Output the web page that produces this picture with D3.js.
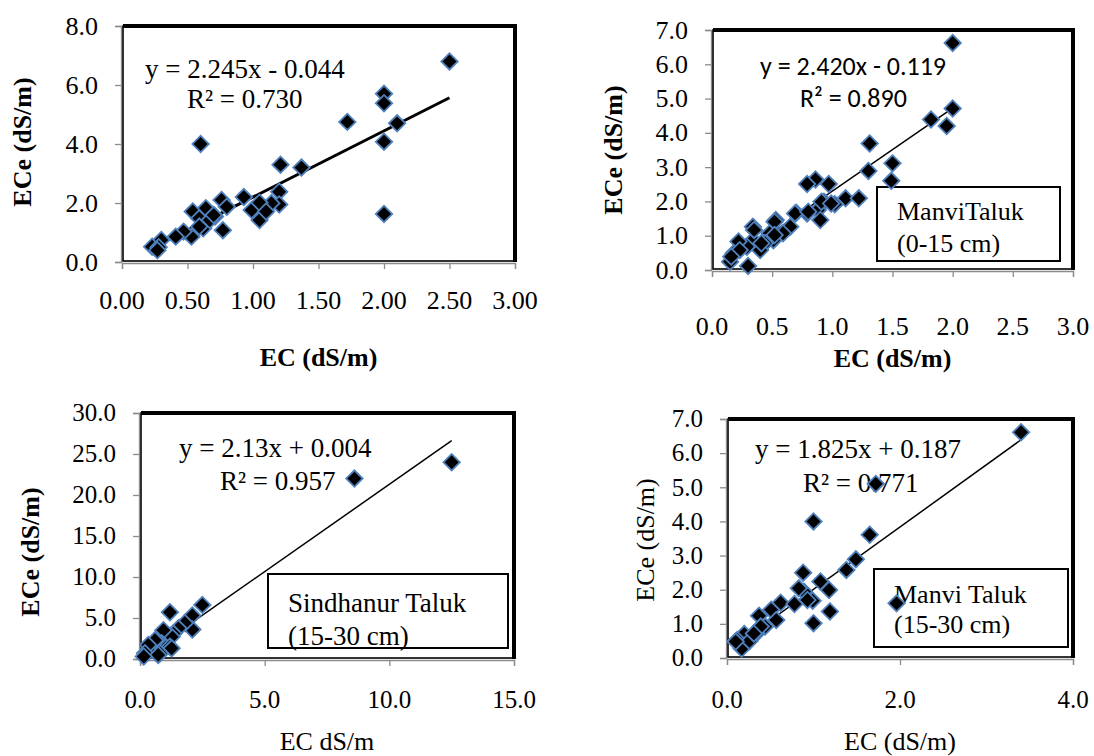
<!DOCTYPE html>
<html>
<head>
<meta charset="utf-8">
<script src="https://cdn.jsdelivr.net/npm/d3@7/dist/d3.min.js"></script>
<style>
  body { margin: 0; background: #fff; }
  svg { display: block; }
</style>
</head>
<body>
<svg id="chart" width="1094" height="756"></svg>
<script>
// ---- Saturation-paste EC (ECe) against 1:2 extract EC, four soil sets ----

// Set 1 (top left)
const ecSet1  = [2.50, 2.00, 2.00, 1.72, 2.10, 2.00, 2.00, 0.60, 1.21, 1.37, 1.20, 1.20, 1.14, 0.93, 0.99, 1.05, 1.05, 1.10, 0.76, 0.80, 0.77, 0.71, 0.64, 0.54, 0.59, 0.62, 0.67, 0.53, 0.47, 0.41, 0.30, 0.23, 0.28, 0.59, 0.70, 0.27];
const eceSet1 = [6.80, 5.70, 5.38, 4.75, 4.70, 4.08, 1.63, 4.00, 3.30, 3.20, 2.38, 1.95, 1.99, 2.20, 1.76, 1.42, 2.01, 1.71, 2.10, 1.87, 1.08, 1.54, 1.82, 1.71, 1.48, 1.14, 1.42, 0.86, 1.03, 0.86, 0.75, 0.52, 0.50, 1.20, 1.59, 0.40];

// Set 2 (top right) – Manvi Taluk, 0-15 cm
const ecSet2  = [2.00, 2.00, 1.82, 1.95, 1.31, 1.50, 1.30, 1.49, 0.86, 0.79, 0.97, 1.11, 1.22, 0.93, 1.02, 0.88, 0.90, 0.79, 0.70, 0.65, 0.59, 0.53, 0.48, 0.51, 0.44, 0.34, 0.34, 0.29, 0.22, 0.18, 0.15, 0.30, 0.40, 0.23, 0.91, 0.69, 0.52, 0.52, 0.35, 0.41, 0.16, 0.80, 0.99];
const eceSet2 = [6.62, 4.71, 4.39, 4.20, 3.69, 3.11, 2.89, 2.60, 2.64, 2.51, 2.51, 2.09, 2.09, 1.99, 1.92, 1.75, 1.46, 1.65, 1.67, 1.26, 1.07, 1.46, 1.07, 0.87, 0.78, 1.26, 0.87, 0.68, 0.83, 0.49, 0.24, 0.12, 0.58, 0.58, 1.99, 1.65, 1.41, 1.02, 1.17, 0.78, 0.39, 1.70, 1.94];

// Set 3 (bottom left) – Sindhanur Taluk, 15-30 cm
const ecSet3  = [12.5, 8.6, 2.5, 1.2, 2.1, 2.1, 1.8, 1.54, 1.34, 1.27, 0.94, 0.87, 0.67, 1.2, 1.27, 0.47, 0.6, 0.33, 0.2, 0.8, 0.73, 0.15];
const eceSet3 = [24.0, 22.0, 6.6, 5.7, 5.3, 3.6, 4.4, 3.74, 3.1, 2.72, 3.5, 1.91, 2.3, 1.5, 1.3, 1.4, 2.3, 1.7, 0.7, 0.7, 0.5, 0.3];

// Set 4 (bottom right) – Manvi Taluk, 15-30 cm
const ecSet4  = [3.40, 1.72, 1.00, 1.65, 1.49, 1.38, 1.96, 0.88, 1.08, 1.18, 1.19, 1.00, 0.99, 0.89, 0.83, 0.62, 0.51, 0.57, 0.37, 0.44, 0.34, 0.78, 0.20, 0.12, 0.17, 0.26, 0.93, 0.39, 0.31, 0.10];
const eceSet4 = [6.61, 5.10, 4.00, 3.61, 2.89, 2.58, 1.60, 2.50, 2.24, 1.99, 1.36, 1.02, 1.68, 1.94, 2.04, 1.62, 1.41, 1.11, 1.24, 0.92, 0.72, 1.58, 0.70, 0.53, 0.28, 0.50, 1.70, 0.92, 0.72, 0.48];

// Linear fits (slope, intercept, R²)
const fitSlopes     = [2.245, 2.420, 2.13, 1.825];
const fitIntercepts = [-0.044, -0.119, 0.004, 0.187];
const fitR2         = ["0.730", "0.890", "0.957", "0.771"];
const fitEquations  = ["y = 2.245x - 0.044", "y = 2.420x - 0.119", "y = 2.13x + 0.004", "y = 1.825x + 0.187"];

// Axis ticks
const xTicksSet1 = [0, 0.5, 1.0, 1.5, 2.0, 2.5, 3.0];
const yTicksSet1 = [0, 2, 4, 6, 8];
const xTicksSet2 = [0, 0.5, 1.0, 1.5, 2.0, 2.5, 3.0];
const yTicksSet2 = [0, 1, 2, 3, 4, 5, 6, 7];
const xTicksSet3 = [0, 5, 10, 15];
const yTicksSet3 = [0, 5, 10, 15, 20, 25, 30];
const xTicksSet4 = [0, 2, 4];
const yTicksSet4 = [0, 1, 2, 3, 4, 5, 6, 7];

// Legend-box captions
const boxLabels = [null, ["ManviTaluk", "(0-15 cm)"], ["Sindhanur Taluk", "(15-30 cm)"], ["Manvi Taluk", "(15-30 cm)"]];

// Axis titles
const xTitles = ["EC (dS/m)", "EC (dS/m)", "EC dS/m", "EC (dS/m)"];
const yTitles = ["ECe (dS/m)", "ECe (dS/m)", "ECe (dS/m)", "ECe (dS/m)"];

const SERIF = "'Liberation Serif', 'Times New Roman', serif";
const SANS = "Carlito, Calibri, Lato, 'Liberation Sans', sans-serif";

const panels = [
  {
    ec: ecSet1, ece: eceSet1, xDom: [0, 3], yDom: [0, 8], xTicks: xTicksSet1, yTicks: yTicksSet1,
    xFmt: d3.format(".2f"), yFmt: d3.format(".1f"),
    px: [122, 515], py: [262, 26],
    fitWidth: 3, eqFont: SERIF, eqSize: 27, eqPos: [23, 52], r2Pos: [65, 82],
    xTickBase: 309, xTitleBase: 366, xTitleBold: true,
    yTitleX: 31, yTitleY: 142, yTitleBold: true, tickSize: 26
  },
  {
    ec: ecSet2, ece: eceSet2, xDom: [0, 3], yDom: [0, 7], xTicks: xTicksSet2, yTicks: yTicksSet2,
    xFmt: d3.format(".1f"), yFmt: d3.format(".1f"),
    px: [712, 1073], py: [270, 30],
    fitWidth: 1.5, eqFont: SANS, eqSize: 26, eqPos: [48, 45], r2Pos: [88, 77],
    box: [877, 187, 1060, 261], boxText: [897, 220, 252], boxSize: 26,
    xTickBase: 335, xTitleBase: 367, xTitleBold: true,
    yTitleX: 622, yTitleY: 150, yTitleBold: true, tickSize: 26
  },
  {
    ec: ecSet3, ece: eceSet3, xDom: [0, 15], yDom: [0, 30], xTicks: xTicksSet3, yTicks: yTicksSet3,
    xFmt: d3.format(".1f"), yFmt: d3.format(".1f"),
    px: [140, 514], py: [659, 413],
    fitWidth: 1.5, eqFont: SERIF, eqSize: 27, eqPos: [39, 44], r2Pos: [80, 77],
    box: [268, 574, 508, 648], boxText: [288, 612, 645], boxSize: 27,
    xTickBase: 708, xTitleBase: 750, xTitleBold: false,
    yTitleX: 39, yTitleY: 552, yTitleBold: true, tickSize: 25
  },
  {
    ec: ecSet4, ece: eceSet4, xDom: [0, 4], yDom: [0, 7], xTicks: xTicksSet4, yTicks: yTicksSet4,
    xFmt: d3.format(".1f"), yFmt: d3.format(".1f"),
    px: [727, 1073], py: [658, 419],
    fitWidth: 1.5, eqFont: SERIF, eqSize: 27, eqPos: [28, 39], r2Pos: [76, 73],
    box: [874, 569, 1068, 647], boxText: [894, 603, 633], boxSize: 26,
    xTickBase: 708, xTitleBase: 750, xTitleBold: false,
    yTitleX: 654, yTitleY: 540, yTitleBold: false, tickSize: 25
  }
];

const svg = d3.select("#chart");
const diamond = d3.symbol().type(d3.symbolSquare).size(135);

panels.forEach((p, i) => {
  const x = d3.scaleLinear().domain(p.xDom).range(p.px);
  const y = d3.scaleLinear().domain(p.yDom).range(p.py);
  const g = svg.append("g");
  const [x0, x1] = p.px, [y0, y1] = p.py;

  // Gray axes with outward ticks
  const xAxis = d3.axisBottom(x).tickValues(p.xTicks).tickSize(6).tickFormat("");
  const yAxis = d3.axisLeft(y).tickValues(p.yTicks).tickSize(6).tickFormat("");
  g.append("g").attr("transform", `translate(0,${y0 + 1})`).call(xAxis)
    .call(s => s.selectAll("path,line").attr("stroke", "#8c8c8c").attr("stroke-width", 1.3));
  g.append("g").attr("transform", `translate(${x0 - 1},0)`).call(yAxis)
    .call(s => s.selectAll("path,line").attr("stroke", "#8c8c8c").attr("stroke-width", 1.3));

  // Plot-area border: thin left/bottom, heavy top/right
  g.append("rect").attr("x", x0 + 1).attr("y", y1).attr("width", x1 - x0 - 1).attr("height", y0 - y1 - 1)
    .attr("fill", "none").attr("stroke", "#000").attr("stroke-width", 1.6);
  g.append("line").attr("x1", x0 + 1).attr("x2", x1 + 2).attr("y1", y1).attr("y2", y1)
    .attr("stroke", "#000").attr("stroke-width", 4);
  g.append("line").attr("x1", x1).attr("x2", x1).attr("y1", y1 - 2).attr("y2", y0)
    .attr("stroke", "#000").attr("stroke-width", 4);

  // Tick labels
  g.selectAll(".xl").data(p.xTicks).join("text")
    .attr("x", d => x(d)).attr("y", p.xTickBase).attr("text-anchor", "middle")
    .attr("font-family", SERIF).attr("font-size", p.tickSize).text(p.xFmt);
  g.selectAll(".yl").data(p.yTicks).join("text")
    .attr("x", x0 - 24).attr("y", d => y(d) + p.tickSize * 0.33).attr("text-anchor", "end")
    .attr("font-family", SERIF).attr("font-size", p.tickSize).text(p.yFmt);

  // Axis titles
  g.append("text").attr("x", (x0 + x1) / 2).attr("y", p.xTitleBase).attr("text-anchor", "middle")
    .attr("font-family", SERIF).attr("font-size", 26).attr("font-weight", p.xTitleBold ? "bold" : "normal")
    .text(xTitles[i]);
  g.append("text").attr("transform", `translate(${p.yTitleX},${p.yTitleY}) rotate(-90)`)
    .attr("text-anchor", "middle").attr("font-family", SERIF).attr("font-size", 26)
    .attr("font-weight", p.yTitleBold ? "bold" : "normal").text(yTitles[i]);

  // Legend box
  if (p.box) {
    const [bx0, by0, bx1, by1] = p.box;
    g.append("rect").attr("x", bx0).attr("y", by0).attr("width", bx1 - bx0).attr("height", by1 - by0)
      .attr("fill", "#fff").attr("stroke", "#000").attr("stroke-width", 2);
    boxLabels[i].forEach((t, k) => {
      g.append("text").attr("x", p.boxText[0]).attr("y", p.boxText[1 + k])
        .attr("font-family", SERIF).attr("font-size", p.boxSize).text(t);
    });
  }

  // Linear fit across the data range
  const xr = d3.extent(p.ec);
  const f = v => fitSlopes[i] * v + fitIntercepts[i];
  g.append("line")
    .attr("x1", x(xr[0])).attr("y1", y(f(xr[0])))
    .attr("x2", x(xr[1])).attr("y2", y(f(xr[1])))
    .attr("stroke", "#000").attr("stroke-width", p.fitWidth);

  // Equation and R²
  g.append("text").attr("x", x0 + p.eqPos[0]).attr("y", y1 + p.eqPos[1])
    .attr("font-family", p.eqFont).attr("font-size", p.eqSize).text(fitEquations[i]);
  g.append("text").attr("x", x0 + p.r2Pos[0]).attr("y", y1 + p.r2Pos[1])
    .attr("font-family", p.eqFont).attr("font-size", p.eqSize).text("R² = " + fitR2[i]);

  // Points
  g.selectAll(".pt").data(p.ec.map((v, k) => [v, p.ece[k]])).join("path")
    .attr("d", diamond)
    .attr("transform", d => `translate(${x(d[0])},${y(d[1])}) rotate(45)`)
    .attr("fill", "#000").attr("stroke", "#4f81bd").attr("stroke-width", 1.8);
});
</script>
</body>
</html>
